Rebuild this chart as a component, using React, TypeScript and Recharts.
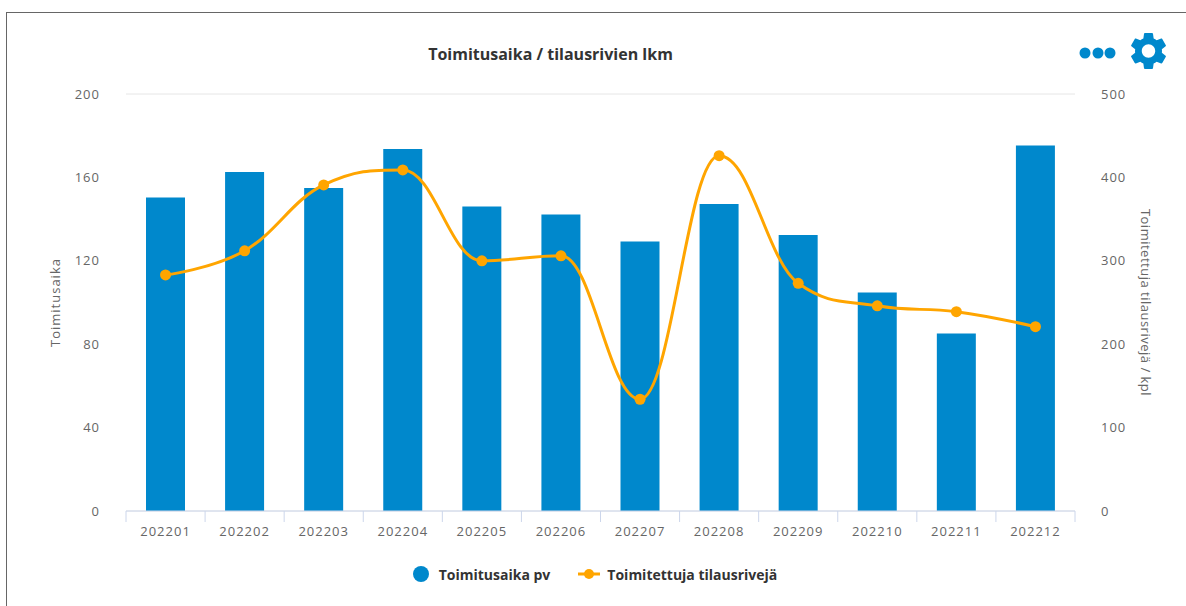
import { Bar, CartesianGrid, ComposedChart, Legend, Line, XAxis, YAxis } from "recharts";

const months = ["202201", "202202", "202203", "202204", "202205", "202206", "202207", "202208", "202209", "202210", "202211", "202212"];
const deliveryDays = [150.4, 162.6, 154.9, 173.6, 146, 142.2, 129.3, 147.2, 132.4, 104.8, 85.1, 175.3];
const orderRows = [283, 312, 391, 409, 300, 306, 134, 426, 273, 246, 239, 221];
const leftTicks = [0, 40, 80, 120, 160, 200];
const rightTicks = [0, 100, 200, 300, 400, 500];

const data = months.map((month, i) => ({ month, days: deliveryDays[i], rows: orderRows[i] }));

const BLUE = "#0088cc";
const ORANGE = "#ffa500";
const GREY = "#666666";
const FONT = '"Open Sans", sans-serif';
const tickStyle = { fontFamily: FONT, fontSize: 13, fill: GREY, letterSpacing: 1 };

// same smoothing highcharts uses for its spline series
function splineCurve(context: any) {
  let pts: [number, number][] = [];
  return {
    areaStart() {},
    areaEnd() {},
    lineStart() {
      pts = [];
    },
    point(x: number, y: number) {
      pts.push([x, y]);
    },
    lineEnd() {
      const cont = pts.map(([x, y], i) => {
        const last = pts[i - 1];
        const next = pts[i + 1];
        if (!last || !next) return { lx: x, ly: y, rx: x, ry: y };
        const lx = (1.5 * x + last[0]) / 2.5;
        let ly = (1.5 * y + last[1]) / 2.5;
        const rx = (1.5 * x + next[0]) / 2.5;
        let ry = (1.5 * y + next[1]) / 2.5;
        const corr = ((ry - ly) * (rx - x)) / (rx - lx) + y - ry;
        ly += corr;
        ry += corr;
        if (ly > last[1] && ly > y) {
          ly = Math.max(last[1], y);
          ry = 2 * y - ly;
        } else if (ly < last[1] && ly < y) {
          ly = Math.min(last[1], y);
          ry = 2 * y - ly;
        }
        if (ry > next[1] && ry > y) {
          ry = Math.max(next[1], y);
          ly = 2 * y - ry;
        } else if (ry < next[1] && ry < y) {
          ry = Math.min(next[1], y);
          ly = 2 * y - ry;
        }
        return { lx, ly, rx, ry };
      });
      pts.forEach(([x, y], i) => {
        if (i === 0) context.moveTo(x, y);
        else context.bezierCurveTo(cont[i - 1].rx, cont[i - 1].ry, cont[i].lx, cont[i].ly, x, y);
      });
    },
  };
}

function MonthTick({ x, y, payload, index }: any) {
  const step = 949 / months.length;
  return (
    <g>
      <line x1={x - step / 2} x2={x - step / 2} y1={y - 8} y2={y + 3} stroke="#ccd6eb" />
      {index === months.length - 1 && <line x1={x + step / 2} x2={x + step / 2} y1={y - 8} y2={y + 3} stroke="#ccd6eb" />}
      <text x={x} y={y + 17} textAnchor="middle" style={tickStyle}>
        {payload.value}
      </text>
    </g>
  );
}

function ChartLegend() {
  const label = { fontFamily: FONT, fontSize: 14, fontWeight: 700, color: "#333333" };
  return (
    <div style={{ display: "flex", justifyContent: "center", alignItems: "center", height: 24, paddingLeft: 4 }}>
      <svg width={16} height={16} style={{ marginRight: 10 }}>
        <circle cx={8} cy={8} r={8} fill={BLUE} />
      </svg>
      <span style={{ ...label, marginRight: 28 }}>Toimitusaika pv</span>
      <svg width={22} height={12} style={{ marginRight: 7 }}>
        <line x1={0} x2={22} y1={6} y2={6} stroke={ORANGE} strokeWidth={3} />
        <circle cx={11} cy={6} r={5} fill={ORANGE} />
      </svg>
      <span style={label}>Toimitettuja tilausrivejä</span>
    </div>
  );
}

export default function App() {
  return (
    <div style={{ position: "absolute", left: 0, top: 0, width: 1186, height: 606, overflow: "hidden", background: "#fff" }}>
      <div style={{ position: "absolute", left: 6, top: 12, width: 1180, height: 1, background: GREY }} />
      <div style={{ position: "absolute", left: 6, top: 12, width: 1, height: 594, background: GREY }} />
      <div
        style={{
          position: "absolute",
          left: 0,
          width: 1101,
          top: 43,
          textAlign: "center",
          fontFamily: FONT,
          fontSize: 16,
          fontWeight: 700,
          color: "#333333",
        }}
      >
        Toimitusaika / tilausrivien lkm
      </div>
      <svg style={{ position: "absolute", left: 1070, top: 25 }} width={110} height={52}>
        <circle cx={15} cy={28} r={5.5} fill={BLUE} />
        <circle cx={28} cy={28} r={5.5} fill={BLUE} />
        <circle cx={40} cy={28} r={5.5} fill={BLUE} />
        <g transform="translate(78.5 26) scale(1.87) translate(-12 -12)">
          <path
            fill={BLUE}
            d="M19.14 12.94c.04-.3.06-.61.06-.94 0-.32-.02-.64-.07-.94l2.03-1.58c.18-.14.23-.41.12-.61l-1.92-3.32c-.12-.22-.37-.29-.59-.22l-2.39.96c-.5-.38-1.03-.7-1.62-.94l-.36-2.54c-.04-.24-.24-.41-.48-.41h-3.84c-.24 0-.43.17-.47.41l-.36 2.54c-.59.24-1.13.57-1.62.94l-2.39-.96c-.22-.08-.47 0-.59.22L2.74 8.87c-.12.21-.08.47.12.61l2.03 1.58c-.05.3-.09.63-.09.94s.02.64.07.94l-2.03 1.58c-.18.14-.23.41-.12.61l1.92 3.32c.12.22.37.29.59.22l2.39-.96c.5.38 1.03.7 1.62.94l.36 2.54c.05.24.24.41.48.41h3.84c.24 0 .44-.17.47-.41l.36-2.54c.59-.24 1.13-.56 1.62-.94l2.39.96c.22.08.47 0 .59-.22l1.92-3.32c.12-.22.07-.47-.12-.61l-2.01-1.58zM12 15.6c-1.98 0-3.6-1.62-3.6-3.6s1.62-3.6 3.6-3.6 3.6 1.62 3.6 3.6-1.62 3.6-3.6 3.6z"
          />
        </g>
      </svg>
      <ComposedChart width={1186} height={606} data={data} margin={{ top: 94, right: 0, bottom: 41, left: 0 }}>
        <CartesianGrid vertical={false} stroke="#e6e6e6" />
        <XAxis dataKey="month" height={30} stroke="#ccd6eb" tickLine={false} tick={<MonthTick />} interval={0} />
        <YAxis
          yAxisId="left"
          width={126}
          domain={[0, 200]}
          ticks={leftTicks}
          axisLine={false}
          tickLine={false}
          tickMargin={20}
          tick={tickStyle}
          label={{ value: "Toimitusaika", angle: -90, position: "insideLeft", dx: 50, style: { ...tickStyle, textAnchor: "middle" } }}
        />
        <YAxis
          yAxisId="right"
          orientation="right"
          width={111}
          domain={[0, 500]}
          ticks={rightTicks}
          axisLine={false}
          tickLine={false}
          tickMargin={20}
          tick={tickStyle}
          label={{ value: "Toimitettuja tilausrivejä / kpl", angle: 90, position: "insideRight", dx: -35, style: { ...tickStyle, letterSpacing: 0.5, textAnchor: "middle" } }}
        />
        <Legend content={<ChartLegend />} verticalAlign="bottom" wrapperStyle={{ bottom: 20 }} />
        <Bar yAxisId="left" dataKey="days" name="Toimitusaika pv" fill={BLUE} barSize={39} isAnimationActive={false} />
        <Line
          yAxisId="right"
          dataKey="rows"
          name="Toimitettuja tilausrivejä"
          type={splineCurve as any}
          stroke={ORANGE}
          strokeWidth={3}
          dot={{ r: 5.5, fill: ORANGE, stroke: ORANGE, strokeWidth: 0 }}
          isAnimationActive={false}
        />
      </ComposedChart>
    </div>
  );
}
